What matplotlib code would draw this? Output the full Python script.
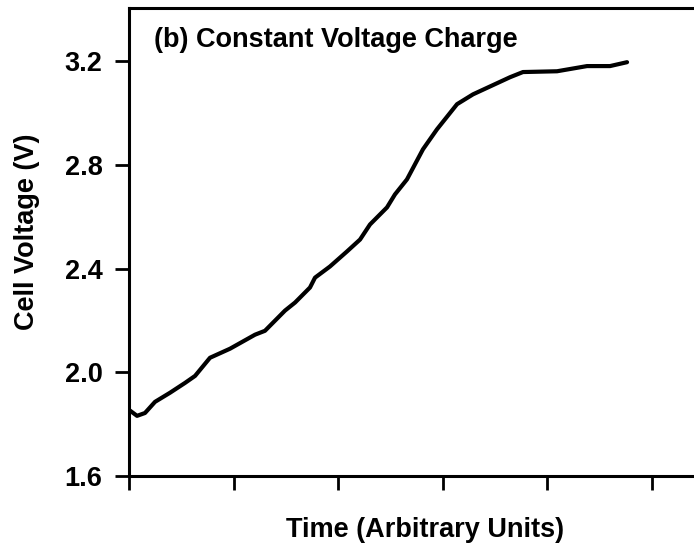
import matplotlib.pyplot as plt

# data
t = [0.0, 0.077, 0.153, 0.249, 0.392, 0.536, 0.632, 0.775, 0.967, 1.206, 1.301,
     1.493, 1.589, 1.732, 1.780, 1.923, 2.086, 2.211, 2.306, 2.469, 2.545, 2.660,
     2.813, 2.947, 3.139, 3.292, 3.646, 3.770, 4.096, 4.383, 4.603, 4.766]
volt = [1.855, 1.832, 1.843, 1.886, 1.921, 1.959, 1.986, 2.056, 2.091, 2.145, 2.160,
        2.238, 2.269, 2.327, 2.365, 2.408, 2.466, 2.512, 2.570, 2.636, 2.686, 2.744,
        2.860, 2.937, 3.034, 3.072, 3.138, 3.158, 3.161, 3.181, 3.181, 3.196]
yticks = [1.6, 2.0, 2.4, 2.8, 3.2]
xticks = [0, 1, 2, 3, 4, 5]

plt.rcParams['font.family'] = ['Liberation Sans', 'DejaVu Sans']
plt.rcParams['font.weight'] = 'bold'
fs = 19.5

fig = plt.figure(figsize=(6.94, 5.5), dpi=100)
ax = fig.add_axes([129 / 694, 74 / 550, 1 - 129 / 694, 468 / 550])

ax.plot(t, volt, color='black', linewidth=3, solid_capstyle='round')

ax.set_xlim(0, 565 / 104.5)
ax.set_ylim(1.6, 3.405)
ax.set_xticks(xticks)
ax.set_xticklabels([])
ax.set_yticks(yticks)
ax.set_yticklabels(['%.1f' % v for v in yticks], fontsize=fs, fontweight='bold')
ax.tick_params(direction='out', length=10, width=2, pad=9)

for s in ['left', 'bottom', 'top']:
    ax.spines[s].set_linewidth(2.2)
ax.spines['right'].set_visible(False)

ax.text(0.045, 0.96, '(b) Constant Voltage Charge', transform=ax.transAxes,
        fontsize=fs, fontweight='bold', va='top', ha='left')
fig.text(27 / 694, 1 - 232 / 550, 'Cell Voltage (V)', fontsize=fs,
         fontweight='bold', rotation=90, ha='center', va='center')
fig.text(425 / 694, 20 / 550, 'Time (Arbitrary Units)', fontsize=fs,
         fontweight='bold', ha='center', va='center')

fig.savefig('out.png', dpi=100)
